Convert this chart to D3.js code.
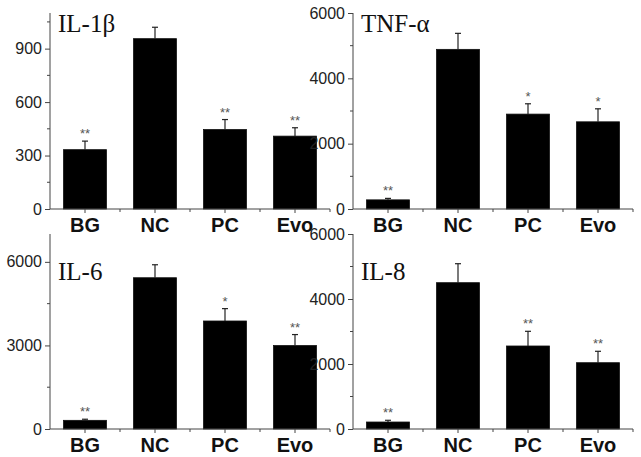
<!DOCTYPE html>
<html><head><meta charset="utf-8">
<script src="https://cdn.jsdelivr.net/npm/d3@7"></script>
<style>body{margin:0;background:#fff}svg{display:block}</style>
</head><body><svg id="c" width="641" height="457"></svg>
<script>
const categories = ["BG","NC","PC","Evo"];
const il1bMean = [333, 956, 446, 409];
const il1bErr  = [48, 64, 56, 47];
const il1bSig  = ["**","","**","**"];
const tnfMean = [280, 4887, 2905, 2669];
const tnfErr  = [45, 490, 316, 398];
const tnfSig  = ["**","","*","*"];
const il6Mean = [311, 5430, 3877, 2996];
const il6Err  = [40, 466, 444, 394];
const il6Sig  = ["**","","*","**"];
const il8Mean = [215, 4502, 2554, 2040];
const il8Err  = [53, 584, 452, 351];
const il8Sig  = ["**","","**","**"];
const il1bTicks = [0,300,600,900];
const tnfTicks = [0,2000,4000,6000];
const il6Ticks = [0,3000,6000];
const il8Ticks = [0,2000,4000,6000];

const panels = [
  {title:"IL-1β", mean:il1bMean, err:il1bErr, sig:il1bSig, ticks:il1bTicks, minor:150, max:1100, x0:50, y0:209, top:13},
  {title:"TNF-α", mean:tnfMean, err:tnfErr, sig:tnfSig, ticks:tnfTicks, minor:1000, max:6000, x0:353, y0:209, top:13},
  {title:"IL-6", mean:il6Mean, err:il6Err, sig:il6Sig, ticks:il6Ticks, minor:1500, max:7000, x0:50, y0:429, top:234},
  {title:"IL-8", mean:il8Mean, err:il8Err, sig:il8Sig, ticks:il8Ticks, minor:1000, max:6000, x0:353, y0:429, top:234}
];
const svg = d3.select("#c");
const axisCol = "#444";
panels.forEach(p => {
  const g = svg.append("g");
  const x = d3.scaleBand().domain(categories).range([p.x0, p.x0+280]).paddingInner(0.386).paddingOuter(0.193);
  const y = d3.scaleLinear().domain([0, p.max]).range([p.y0, p.top]);
  g.selectAll("rect.bar").data(categories).join("rect")
    .attr("x", d => x(d)).attr("width", x.bandwidth())
    .attr("y", (d,i) => y(p.mean[i])).attr("height", (d,i) => y(0)-y(p.mean[i]))
    .attr("fill", "#000").attr("stroke","#111").attr("stroke-width",0.8);
  categories.forEach((c,i) => {
    const cx = x(c) + x.bandwidth()/2;
    const yt = y(p.mean[i]+p.err[i]);
    g.append("line").attr("x1",cx).attr("x2",cx).attr("y1",y(p.mean[i])).attr("y2",yt).attr("stroke","#222").attr("stroke-width",1.2);
    g.append("line").attr("x1",cx-3).attr("x2",cx+3).attr("y1",yt).attr("y2",yt).attr("stroke","#222").attr("stroke-width",1.2);
    if (p.sig[i]) g.append("text").attr("x",cx).attr("y",yt-3).attr("text-anchor","middle")
      .attr("font-family","Arial, 'Liberation Sans', sans-serif").attr("font-size",13).attr("fill","#555").text(p.sig[i]);
  });
  const ya = g.append("g").attr("transform",`translate(${p.x0},0)`)
    .call(d3.axisLeft(y).tickValues(p.ticks).tickSize(5).tickPadding(3).tickFormat(d3.format("d")));
  ya.select(".domain").remove();
  ya.append("line").attr("x1",0).attr("x2",0).attr("y1",p.y0).attr("y2",p.top).attr("stroke",axisCol);
  ya.selectAll(".tick line").attr("stroke",axisCol);
  ya.selectAll(".tick text").attr("font-family","Arial, 'Liberation Sans', sans-serif").attr("font-size",16).attr("fill","#222");
  const minors = d3.range(p.minor, p.max+1, p.minor*2).filter(v => v<=p.max);
  ya.selectAll("line.minor").data(minors).join("line").attr("class","minor")
    .attr("x1",-3).attr("x2",0).attr("y1",d=>y(d)).attr("y2",d=>y(d)).attr("stroke",axisCol);
  const xa = g.append("g").attr("transform",`translate(0,${p.y0})`)
    .call(d3.axisBottom(x).tickSize(4).tickPadding(5));
  xa.select(".domain").remove();
  xa.append("line").attr("x1",p.x0).attr("x2",p.x0+280).attr("y1",0).attr("y2",0).attr("stroke",axisCol);
  xa.selectAll(".tick line").attr("stroke",axisCol);
  xa.selectAll(".tick text").attr("font-family","Arial, 'Liberation Sans', sans-serif").attr("font-weight","bold").attr("font-size",20).attr("fill","#111");
  const bounds = categories.slice(1).map(c => x(c) - x.step()*x.paddingInner()/2).concat([p.x0+280]);
  xa.selectAll("line.minor").data(bounds).join("line").attr("class","minor")
    .attr("x1",d=>d).attr("x2",d=>d).attr("y1",0).attr("y2",3).attr("stroke",axisCol);
  g.append("text").attr("x",p.x0+8).attr("y",p.top+19+(p.top>100?27:0))
    .attr("font-family","'Liberation Serif','Times New Roman',serif").attr("font-size",25).attr("fill","#111").text(p.title);
});
</script></body></html>
